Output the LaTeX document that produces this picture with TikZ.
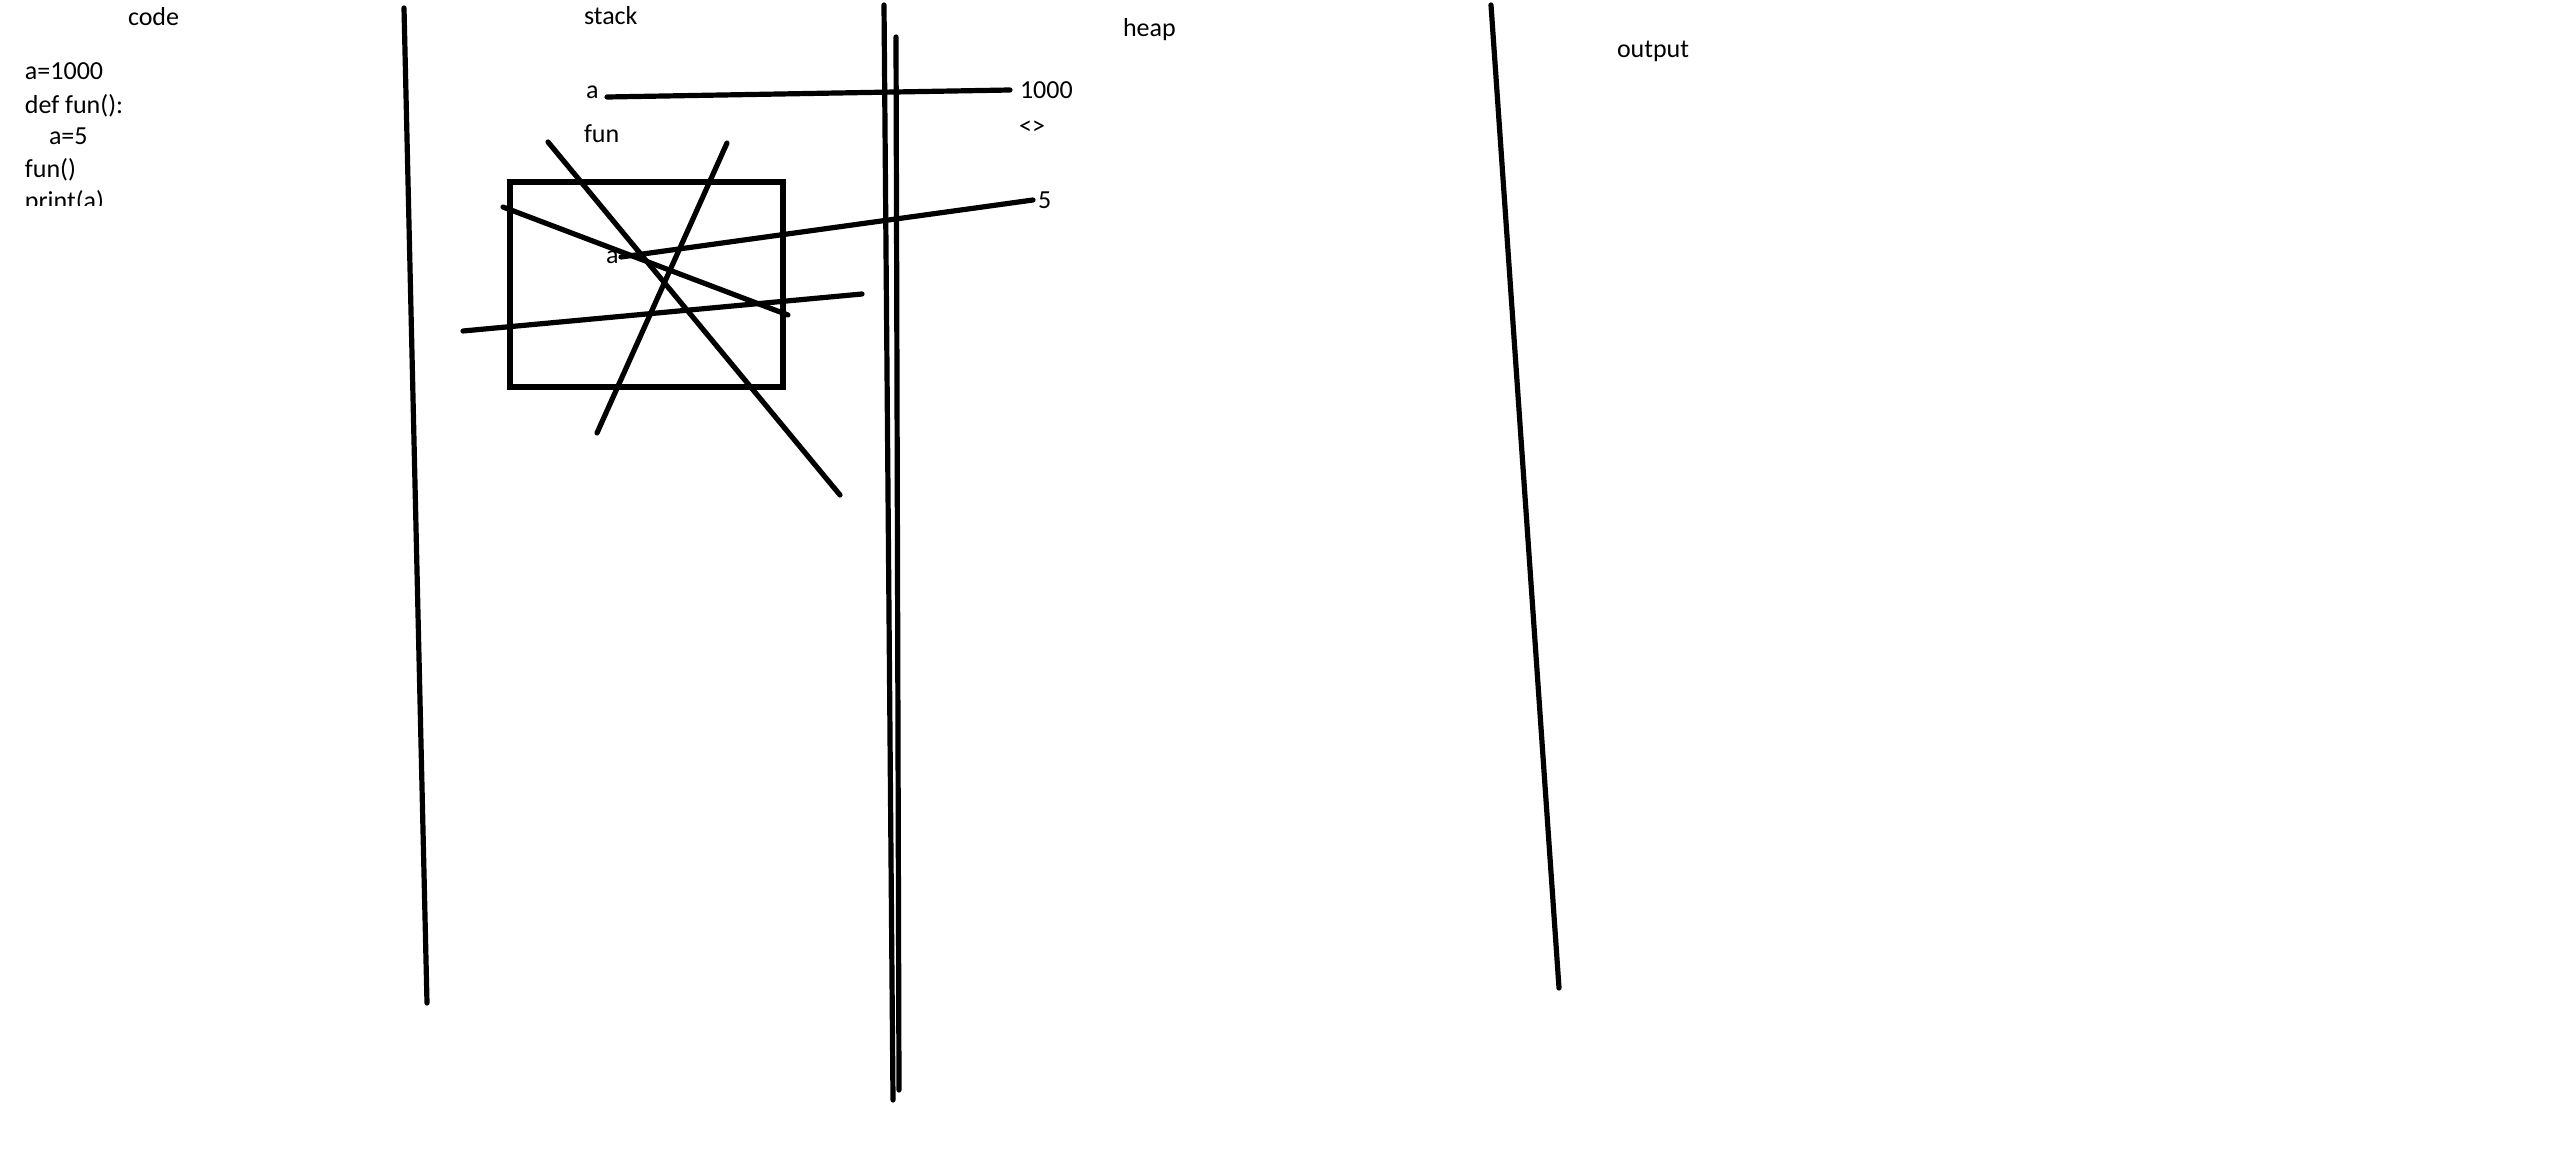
\documentclass[tikz,border=0pt]{standalone}
\usepackage{fontspec}
\setmainfont{Carlito}
\begin{document}
\begin{tikzpicture}[x=0.5pt,y=-0.5pt,
  stroke/.style={line width=2.6pt, line cap=round, line join=round, black},
  lbl/.style={inner sep=0pt, outer sep=0pt, anchor=base west, font=\fontsize{13pt}{16pt}\selectfont}]
\useasboundingbox (0,0) rectangle (2554,1172);
\fill[white] (0,0) rectangle (2554,1172);

% column titles
\node[lbl] (tcode) at (128,26) {code};
\node[lbl] (tstack) at (584,25) {stack};
\node[lbl] (theap) at (1123,37) {heap};
\node[lbl] (toutput) at (1617,58) {output};

% code listing (clipped at bottom)
\begin{scope}
\clip (0,0) rectangle (400,205);
\node[lbl] (c1) at (25,80) {a=1000};
\node[lbl] (c2) at (25,113) {def fun():};
\node[lbl] (c3) at (49,145) {a=5};
\node[lbl] (c4) at (25,177) {fun()};
\node[lbl] (c5) at (25,209) {print(a)};
\end{scope}

% dividers
\draw[stroke] (404,8) -- (427,1003);
\draw[stroke] (884,5) -- (893,1100);
\draw[stroke] (896,37) -- (899,1090);
\draw[stroke] (1491,5) -- (1559,988);

% stack contents
\node[lbl] (atop) at (586,98) {a};
\node[lbl] (fun) at (584,142) {fun};
\node[lbl] (ainner) at (606,263) {a};

% heap contents
\node[lbl] (v1000) at (1020,98) {1000};
\node[inner sep=0pt, font=\fontsize{13pt}{16pt}\selectfont] (brackets) at (1032,128) {<>};
\node[lbl] (v5) at (1038,208) {5};

% references
\coordinate (atopS) at (607,97);
\coordinate (v1000E) at (1010,90);
\coordinate (ainnerS) at (621,257);
\coordinate (v5E) at (1033,200);
\draw[stroke] (atopS) -- (v1000E);
\draw[stroke] (ainnerS) -- (v5E);

% function frame
\node[draw, line width=2.6pt, minimum width=136.5pt, minimum height=102.5pt, inner sep=0pt] (funbox) at (646.5,284.5) {};

% strike-through lines
\draw[stroke] (548,142) -- (840,495);
\draw[stroke] (727,143) -- (597,433);
\draw[stroke] (503,207) -- (788,315);
\draw[stroke] (463,331) -- (862,294);
\end{tikzpicture}
\end{document}
